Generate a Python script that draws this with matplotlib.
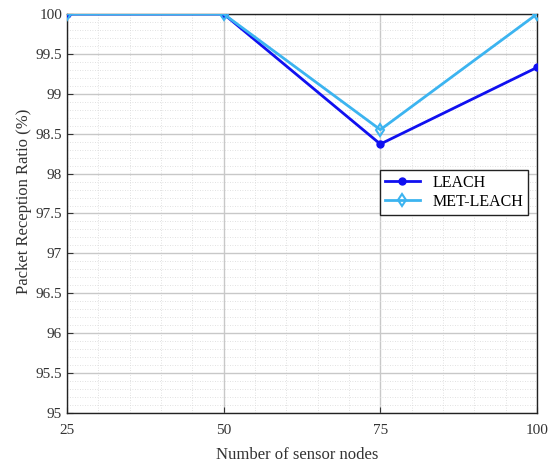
import matplotlib.pyplot as plt
from matplotlib.ticker import MultipleLocator

plt.rcParams['font.family'] = ['Liberation Serif', 'DejaVu Serif']

nodes = [25, 50, 75, 100]
leach = [100, 100, 98.37, 99.33]
met_leach = [100, 100, 98.55, 100]

fig = plt.figure(figsize=(5.55, 4.63), dpi=100)
ax = fig.add_axes([67/555, 1-413/463, 470/555, 399/463])

ax.plot(nodes, leach, color='#1010f0', lw=2, marker='o', ms=5, label='LEACH', zorder=3)
ax.plot(nodes, met_leach, color='#3cb4f0', lw=2, marker='d', ms=6,
        mfc='none', mew=1.5, label='MET-LEACH', zorder=4)

ax.set_xlim(25, 100)
ax.set_ylim(95, 100)
ax.set_xticks(nodes)
ax.set_yticks([95, 95.5, 96, 96.5, 97, 97.5, 98, 98.5, 99, 99.5, 100])
ax.set_yticklabels(['95', '95.5', '96', '96.5', '97', '97.5', '98', '98.5', '99', '99.5', '100'])
ax.xaxis.set_minor_locator(MultipleLocator(5))
ax.yaxis.set_minor_locator(MultipleLocator(0.1))
ax.grid(which='major', color='#c8c8c8', lw=1.0)
ax.grid(which='minor', color='#d8d8d8', lw=0.6, ls=(0, (1, 2)))
ax.tick_params(which='major', direction='in', length=4, labelsize=11, colors='#333333')
ax.tick_params(which='minor', length=0)
ax.tick_params(axis='x', pad=8)
for s in ax.spines.values():
    s.set_color('#222222')
    s.set_linewidth(1.0)

ax.set_xlabel('Number of sensor nodes', fontsize=12, color='#333333')
ax.set_ylabel('Packet Reception Ratio (%)', fontsize=12, color='#333333')
ax.xaxis.set_label_coords(0.49, -0.085)
ax.yaxis.set_label_coords(-0.075, 0.53)

leg = ax.legend(loc='upper left', bbox_to_anchor=(313/470, (413-170)/399), fontsize=11.5,
                fancybox=False, edgecolor='#222222', framealpha=1, borderpad=0.3,
                handlelength=2.2, labelspacing=0.2, borderaxespad=0)
leg.get_frame().set_linewidth(1.0)

fig.savefig('out.png', dpi=100)
